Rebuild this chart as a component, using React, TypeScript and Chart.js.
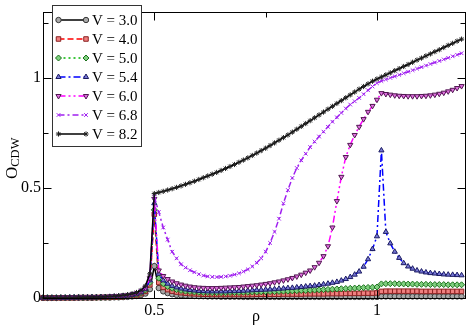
import React, { useEffect, useRef } from 'react';
import { Chart, registerables } from 'chart.js';
import { drawPoint } from 'chart.js/helpers';

Chart.register(...registerables);

// ---------- data ----------
const RHO = [
  0.25, 0.26, 0.27, 0.28, 0.29, 0.30, 0.31, 0.32, 0.33, 0.34,
  0.35, 0.36, 0.37, 0.38, 0.39, 0.40, 0.41, 0.42, 0.43, 0.44,
  0.45, 0.46, 0.47, 0.48, 0.49, 0.50, 0.51, 0.52, 0.53, 0.54,
  0.55, 0.56, 0.57, 0.58, 0.59, 0.60, 0.61, 0.62, 0.63, 0.64,
  0.65, 0.66, 0.67, 0.68, 0.69, 0.70, 0.71, 0.72, 0.73, 0.74,
  0.75, 0.76, 0.77, 0.78, 0.79, 0.80, 0.81, 0.82, 0.83, 0.84,
  0.85, 0.86, 0.87, 0.88, 0.89, 0.90, 0.91, 0.92, 0.93, 0.94,
  0.95, 0.96, 0.97, 0.98, 0.99, 1.00, 1.01, 1.02, 1.03, 1.04,
  1.05, 1.06, 1.07, 1.08, 1.09, 1.10, 1.11, 1.12, 1.13, 1.14,
  1.15, 1.16, 1.17, 1.18, 1.19,
];

const V30 = [
  0.000, 0.000, 0.000, 0.000, 0.001, 0.001, 0.001, 0.001, 0.001, 0.001,
  0.001, 0.001, 0.002, 0.002, 0.002, 0.002, 0.003, 0.003, 0.004, 0.005,
  0.007, 0.009, 0.013, 0.020, 0.040, 0.145, 0.045, 0.030, 0.022, 0.017,
  0.014, 0.012, 0.011, 0.010, 0.009, 0.008, 0.008, 0.007, 0.007, 0.007,
  0.006, 0.006, 0.006, 0.006, 0.006, 0.005, 0.005, 0.005, 0.005, 0.005,
  0.005, 0.005, 0.005, 0.005, 0.005, 0.005, 0.005, 0.005, 0.005, 0.005,
  0.005, 0.005, 0.005, 0.005, 0.005, 0.005, 0.005, 0.005, 0.005, 0.005,
  0.005, 0.005, 0.005, 0.005, 0.005, 0.005, 0.007, 0.007, 0.007, 0.007,
  0.007, 0.007, 0.007, 0.007, 0.007, 0.007, 0.007, 0.007, 0.007, 0.007,
  0.007, 0.007, 0.007, 0.007, 0.007,
];

const V40 = [
  0.001, 0.001, 0.001, 0.001, 0.001, 0.001, 0.001, 0.001, 0.002, 0.002,
  0.002, 0.002, 0.002, 0.003, 0.003, 0.003, 0.004, 0.005, 0.006, 0.008,
  0.010, 0.014, 0.020, 0.030, 0.060, 0.380, 0.070, 0.048, 0.038, 0.031,
  0.027, 0.024, 0.022, 0.020, 0.019, 0.018, 0.017, 0.017, 0.016, 0.016,
  0.016, 0.016, 0.016, 0.016, 0.016, 0.016, 0.016, 0.016, 0.017, 0.017,
  0.017, 0.017, 0.017, 0.017, 0.018, 0.018, 0.018, 0.018, 0.018, 0.019,
  0.019, 0.019, 0.019, 0.019, 0.020, 0.020, 0.020, 0.020, 0.021, 0.021,
  0.021, 0.021, 0.022, 0.022, 0.022, 0.023, 0.030, 0.031, 0.031, 0.031,
  0.031, 0.031, 0.031, 0.031, 0.031, 0.030, 0.030, 0.030, 0.030, 0.030,
  0.030, 0.030, 0.030, 0.030, 0.030,
];

const V50 = [
  0.001, 0.001, 0.001, 0.001, 0.001, 0.001, 0.001, 0.002, 0.002, 0.002,
  0.002, 0.003, 0.003, 0.003, 0.004, 0.004, 0.005, 0.006, 0.008, 0.010,
  0.013, 0.017, 0.024, 0.036, 0.070, 0.400, 0.090, 0.065, 0.052, 0.044,
  0.038, 0.034, 0.031, 0.029, 0.027, 0.026, 0.025, 0.025, 0.024, 0.024,
  0.024, 0.024, 0.025, 0.025, 0.025, 0.026, 0.026, 0.027, 0.027, 0.028,
  0.028, 0.029, 0.029, 0.030, 0.031, 0.031, 0.032, 0.033, 0.034, 0.034,
  0.035, 0.036, 0.037, 0.038, 0.039, 0.040, 0.041, 0.042, 0.043, 0.044,
  0.045, 0.046, 0.047, 0.048, 0.049, 0.050, 0.064, 0.065, 0.065, 0.065,
  0.064, 0.064, 0.063, 0.063, 0.062, 0.062, 0.062, 0.061, 0.061, 0.061,
  0.061, 0.060, 0.060, 0.060, 0.060,
];

const V54 = [
  0.001, 0.001, 0.001, 0.001, 0.001, 0.001, 0.002, 0.002, 0.002, 0.002,
  0.003, 0.003, 0.003, 0.004, 0.004, 0.005, 0.006, 0.007, 0.009, 0.011,
  0.014, 0.019, 0.026, 0.040, 0.080, 0.430, 0.110, 0.080, 0.065, 0.055,
  0.048, 0.043, 0.039, 0.036, 0.034, 0.032, 0.031, 0.030, 0.030, 0.030,
  0.030, 0.030, 0.031, 0.031, 0.032, 0.033, 0.034, 0.035, 0.036, 0.037,
  0.038, 0.039, 0.040, 0.042, 0.043, 0.045, 0.046, 0.048, 0.050, 0.052,
  0.054, 0.056, 0.059, 0.062, 0.065, 0.069, 0.073, 0.079, 0.086, 0.095,
  0.106, 0.120, 0.142, 0.176, 0.222, 0.280, 0.670, 0.300, 0.248, 0.210,
  0.182, 0.158, 0.143, 0.133, 0.125, 0.120, 0.116, 0.113, 0.111, 0.109,
  0.107, 0.106, 0.105, 0.104, 0.103,
];

const V60 = [
  0.001, 0.001, 0.001, 0.001, 0.001, 0.002, 0.002, 0.002, 0.002, 0.003,
  0.003, 0.003, 0.004, 0.004, 0.005, 0.006, 0.007, 0.008, 0.010, 0.012,
  0.016, 0.021, 0.029, 0.045, 0.090, 0.450, 0.125, 0.100, 0.086, 0.075,
  0.067, 0.061, 0.056, 0.052, 0.049, 0.047, 0.046, 0.045, 0.045, 0.045,
  0.046, 0.047, 0.048, 0.049, 0.050, 0.052, 0.054, 0.056, 0.058, 0.061,
  0.064, 0.067, 0.071, 0.075, 0.080, 0.085, 0.091, 0.098, 0.106, 0.115,
  0.125, 0.140, 0.160, 0.190, 0.235, 0.320, 0.440, 0.550, 0.640, 0.695,
  0.740, 0.777, 0.812, 0.845, 0.872, 0.900, 0.930, 0.926, 0.923, 0.920,
  0.918, 0.917, 0.916, 0.916, 0.916, 0.917, 0.918, 0.920, 0.923, 0.927,
  0.932, 0.938, 0.945, 0.953, 0.962,
];

const V68 = [
  0.001, 0.001, 0.001, 0.001, 0.002, 0.002, 0.002, 0.002, 0.003, 0.003,
  0.003, 0.004, 0.004, 0.005, 0.006, 0.007, 0.008, 0.009, 0.011, 0.014,
  0.018, 0.023, 0.032, 0.050, 0.100, 0.460, 0.390, 0.320, 0.265, 0.210,
  0.180, 0.153, 0.138, 0.126, 0.117, 0.108, 0.102, 0.098, 0.096, 0.095,
  0.096, 0.098, 0.101, 0.106, 0.112, 0.120, 0.130, 0.143, 0.160, 0.180,
  0.210, 0.250, 0.300, 0.360, 0.430, 0.490, 0.545, 0.590, 0.625, 0.655,
  0.685, 0.710, 0.733, 0.755, 0.777, 0.800, 0.820, 0.840, 0.860, 0.878,
  0.893, 0.908, 0.925, 0.943, 0.960, 0.975, 0.985, 0.992, 0.999, 1.006,
  1.013, 1.020, 1.027, 1.034, 1.041, 1.048, 1.055, 1.062, 1.069, 1.076,
  1.083, 1.090, 1.097, 1.104, 1.111,
];

const V82 = [
  0.001, 0.001, 0.001, 0.001, 0.002, 0.002, 0.002, 0.002, 0.003, 0.003,
  0.003, 0.004, 0.004, 0.005, 0.006, 0.007, 0.008, 0.010, 0.012, 0.015,
  0.019, 0.025, 0.035, 0.055, 0.110, 0.474, 0.479, 0.484, 0.490, 0.496,
  0.502, 0.509, 0.516, 0.523, 0.530, 0.538, 0.546, 0.554, 0.562, 0.570,
  0.579, 0.588, 0.597, 0.606, 0.616, 0.626, 0.636, 0.647, 0.658, 0.669,
  0.680, 0.692, 0.704, 0.716, 0.728, 0.740, 0.753, 0.766, 0.779, 0.792,
  0.805, 0.818, 0.831, 0.844, 0.857, 0.870, 0.883, 0.896, 0.909, 0.922,
  0.935, 0.948, 0.960, 0.972, 0.984, 0.994, 1.003, 1.013, 1.022, 1.032,
  1.041, 1.051, 1.060, 1.070, 1.080, 1.089, 1.099, 1.108, 1.118, 1.127,
  1.137, 1.147, 1.156, 1.166, 1.175,
];

const SERIES = [V30, V40, V50, V54, V60, V68, V82];
const LABELS = ['V = 3.0', 'V = 4.0', 'V = 5.0', 'V = 5.4', 'V = 6.0', 'V = 6.8', 'V = 8.2'];

const X_TICKS = [0.5, 1];
const X_TICK_LABELS = ['0.5', '1'];
const X_MINOR = [0.75];
const Y_TICKS = [0, 0.5, 1];
const Y_TICK_LABELS = ['0', '0.5', '1'];
const Y_MINOR = [0.25, 0.75, 1.25];

// ---------- styles ----------
const SERIF = '"Liberation Serif", "DejaVu Serif", serif';

type St = {
  color: string; dash: number[]; pointStyle: any; fill: string; edge: string; radius: number; rotation: number;
};
const STYLES: St[] = [
  { color: '#000000', dash: [], pointStyle: 'circle', fill: '#a8a8a8', edge: '#383838', radius: 2.7, rotation: 0 },
  { color: '#ff0000', dash: [6, 3], pointStyle: 'rect', fill: '#f08080', edge: '#8a2020', radius: 3.2, rotation: 0 },
  { color: '#00b400', dash: [2, 3], pointStyle: 'rectRot', fill: '#80d080', edge: '#1a701a', radius: 3, rotation: 0 },
  { color: '#0000ff', dash: [7, 3, 2, 3], pointStyle: 'triangle', fill: '#7878d8', edge: '#1a1a60', radius: 3, rotation: 0 },
  { color: '#ff00ff', dash: [7, 3, 2, 3, 2, 3], pointStyle: 'triangle', fill: '#e070e0', edge: '#501850', radius: 3, rotation: 180 },
  { color: '#a020f0', dash: [6, 3, 2, 3], pointStyle: 'crossRot', fill: '#a020f0', edge: '#a020f0', radius: 2.6, rotation: 0 },
  { color: '#000000', dash: [], pointStyle: 'star', fill: '#000000', edge: '#202020', radius: 2.6, rotation: 0 },
];

const decorPlugin = {
  id: 'decor',
  afterDraw(chart: any) {
    const ctx = chart.ctx as CanvasRenderingContext2D;
    const a = chart.chartArea;
    const xs = chart.scales.x;
    const ys = chart.scales.y;
    ctx.save();
    ctx.setLineDash([]);
    ctx.strokeStyle = '#000';
    ctx.lineWidth = 1;
    const L = Math.round(a.left) + 0.5;
    const R = Math.round(a.right) - 0.5;
    const T = Math.round(a.top) + 0.5;
    const B = Math.round(a.bottom) + 0.5;
    ctx.strokeRect(L, T, R - L, B - T);

    const tick = (x1: number, y1: number, x2: number, y2: number) => {
      ctx.beginPath();
      ctx.moveTo(x1, y1);
      ctx.lineTo(x2, y2);
      ctx.stroke();
    };
    const xTick = (v: number, len: number) => {
      const px = Math.round(xs.getPixelForValue(v)) + 0.5;
      tick(px, B, px, B - len);
      tick(px, T, px, T + len);
    };
    const yTick = (v: number, len: number) => {
      const py = Math.round(ys.getPixelForValue(v)) + 0.5;
      tick(L, py, L + len, py);
      tick(R, py, R - len, py);
    };
    X_TICKS.forEach((v) => xTick(v, 8));
    X_MINOR.forEach((v) => xTick(v, 5));
    Y_TICKS.forEach((v) => yTick(v, 8));
    Y_MINOR.forEach((v) => yTick(v, 5));

    // legend box
    const bx = 52.5, by = 5.5, bw = 89, bh = 141;
    ctx.fillStyle = '#ffffff';
    ctx.fillRect(bx, by, bw, bh);
    ctx.strokeStyle = '#333';
    ctx.strokeRect(bx, by, bw, bh);
    LABELS.forEach((lab, i) => {
      const st = STYLES[i];
      const y = 20 + i * 19;
      ctx.strokeStyle = st.color;
      ctx.lineWidth = 1.5;
      ctx.setLineDash(st.dash);
      ctx.beginPath();
      ctx.moveTo(58.5, y);
      ctx.lineTo(86, y);
      ctx.stroke();
      ctx.setLineDash([]);
      [58.5, 86].forEach((px) => {
        ctx.fillStyle = st.fill;
        ctx.strokeStyle = st.edge;
        ctx.lineWidth = 1;
        drawPoint(ctx, { pointStyle: st.pointStyle, rotation: st.rotation, radius: st.radius, borderWidth: 1 } as any, px, y);
      });
      ctx.fillStyle = '#000';
      ctx.font = `15px ${SERIF}`;
      ctx.textAlign = 'left';
      ctx.textBaseline = 'middle';
      ctx.fillText(lab, 92, y + 1);
    });

    // axis titles
    ctx.fillStyle = '#000';
    ctx.font = `16px ${SERIF}`;
    ctx.textAlign = 'center';
    ctx.textBaseline = 'alphabetic';
    ctx.fillText('ρ', 256, 321);

    ctx.save();
    ctx.translate(17, 179);
    ctx.rotate(-Math.PI / 2);
    ctx.textAlign = 'left';
    ctx.font = `17px ${SERIF}`;
    ctx.fillText('O', 0, 0);
    const w = ctx.measureText('O').width;
    ctx.font = `12.5px ${SERIF}`;
    ctx.fillText('CDW', w, 2);
    ctx.restore();

    ctx.restore();
  },
};

export default function App() {
  const ref = useRef<HTMLCanvasElement>(null);
  useEffect(() => {
    const canvas = ref.current;
    if (!canvas) return;
    const datasets = SERIES.map((vals, i) => {
      const st = STYLES[i];
      return {
        label: LABELS[i],
        data: RHO.map((x, k) => ({ x, y: vals[k] })),
        borderColor: st.color,
        borderWidth: 1.5,
        borderDash: st.dash,
        pointStyle: st.pointStyle,
        pointRotation: st.rotation,
        pointRadius: st.radius,
        pointBackgroundColor: st.fill,
        pointBorderColor: st.edge,
        pointBorderWidth: 1,
        fill: false,
        tension: 0,
        clip: false as any,
        order: 6 - i,
      };
    });
    const chart = new Chart(canvas, {
      type: 'line',
      data: { datasets },
      options: {
        animation: false,
        responsive: false,
        devicePixelRatio: 1,
        events: [],
        layout: { padding: { top: 1, right: 2, left: 0, bottom: 0 } },
        plugins: { legend: { display: false }, tooltip: { enabled: false } },
        scales: {
          x: {
            type: 'linear',
            min: 0.25,
            max: 1.2,
            grid: { display: false, drawTicks: false },
            border: { display: false },
            afterBuildTicks: (s: any) => {
              s.ticks = X_TICKS.map((value) => ({ value }));
            },
            afterFit: (s: any) => {
              s.height = 32;
            },
            ticks: {
              autoSkip: false,
              maxRotation: 0,
              padding: 3,
              color: '#000',
              font: { family: SERIF, size: 16 },
              callback: (_v: any, idx: number) => X_TICK_LABELS[idx],
            },
          },
          y: {
            type: 'linear',
            min: 0,
            max: 1.3,
            grid: { display: false, drawTicks: false },
            border: { display: false },
            afterBuildTicks: (s: any) => {
              s.ticks = Y_TICKS.map((value) => ({ value }));
            },
            afterFit: (s: any) => {
              s.width = 43;
            },
            ticks: {
              autoSkip: false,
              padding: 2,
              color: '#000',
              font: { family: SERIF, size: 16 },
              callback: (_v: any, idx: number) => Y_TICK_LABELS[idx],
            },
          },
        },
      },
      plugins: [decorPlugin],
    } as any);
    return () => chart.destroy();
  }, []);
  return (
    <div style={{ position: 'fixed', left: 0, top: 0, width: 471, height: 330, background: '#fff' }}>
      <canvas ref={ref} width={471} height={330} style={{ display: 'block', width: 471, height: 330 }} />
    </div>
  );
}
